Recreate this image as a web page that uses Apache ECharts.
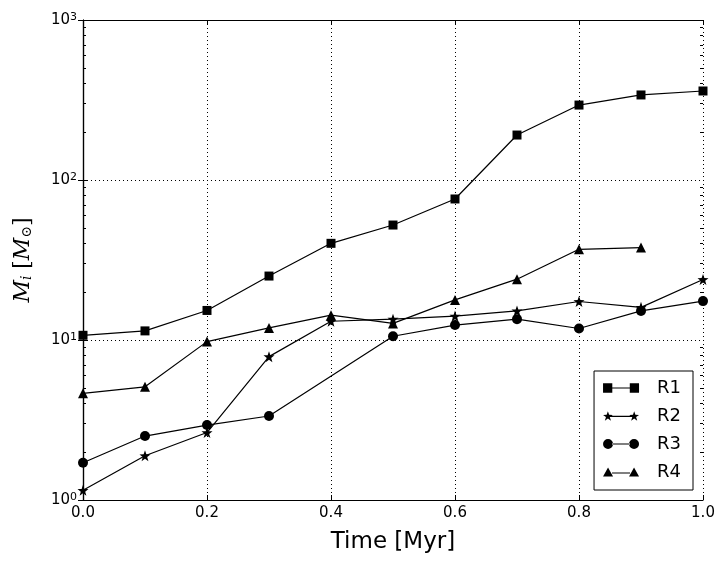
<!DOCTYPE html>
<html>
<head>
<meta charset="utf-8">
<script src="https://cdn.jsdelivr.net/npm/echarts@6/dist/echarts.min.js"></script>
<style>
  html, body { margin: 0; padding: 0; background: #fff; }
  #chart { width: 725px; height: 564px; }
</style>
</head>
<body>
<div id="chart"></div>
<script>
// time axis (Myr)
const times = [0.0, 0.1, 0.2, 0.3, 0.4, 0.5, 0.6, 0.7, 0.8, 0.9, 1.0];

// masses per run (M_sun); null = no point
const r1 = [10.7, 11.4, 15.3, 25.1, 40.2, 52.3, 76.1, 191, 294, 340, 360];
const r2 = [1.15, 1.89, 2.64, 7.87, 13.1, 13.5, 14.1, 15.2, 17.4, 16.0, 23.9];
const r3 = [1.71, 2.51, 2.94, 3.35, null, 10.55, 12.4, 13.5, 11.8, 15.2, 17.5];
const r4 = [4.64, 5.1, 9.77, 11.9, 14.3, 12.7, 17.8, 24.0, 36.9, 37.8, null];

const seriesNames = ['R1', 'R2', 'R3', 'R4'];
const yMinorTicks = [2, 3, 4, 5, 6, 7, 8, 9, 20, 30, 40, 50, 60, 70, 80, 90,
  200, 300, 400, 500, 600, 700, 800, 900];

const FONT = 'DejaVu Sans';

// marker shapes
const starPath = 'path://M4,-0.5L5.06,2.54L8.28,2.61L5.71,4.56L6.65,7.64L4,5.8L1.35,7.64L2.29,4.56L-0.28,2.61L2.94,2.54Z';
const legendIcons = {
  R1: 'path://M0.5,0.5h9v9h-9zM9,4.4h18v1.2h-18zM26.5,0.5h9v9h-9z',
  R2: 'path://M5,0L6.2,3.4L9.8,3.5L6.9,5.7L8,9.2L5,7.1L2,9.2L3.1,5.7L0.2,3.5L3.8,3.4ZM8,4.4h20v1.2h-20zM31,0L32.2,3.4L35.8,3.5L32.9,5.7L34,9.2L31,7.1L28,9.2L29.1,5.7L26.2,3.5L29.8,3.4Z',
  R3: 'path://M0,5a5,5 0 1,0 10,0a5,5 0 1,0 -10,0zM9,4.4h18v1.2h-18zM26,5a5,5 0 1,0 10,0a5,5 0 1,0 -10,0z',
  R4: 'path://M0,9.5L5,0.5L10,9.5ZM9,5.4h18v1.2h-18zM26,9.5L31,0.5L36,9.5Z'
};

function pairs(vals) {
  return times.map((t, i) => [t, vals[i]]).filter(p => p[1] !== null);
}

const chart = echarts.init(document.getElementById('chart'));

const tickLabelStyle = { fontFamily: FONT, fontSize: 15, color: '#000' };

function xAxisBase(extra) {
  return Object.assign({
    type: 'value',
    min: 0,
    max: 1,
    interval: 0.2,
    axisLine: { show: true, onZero: false, lineStyle: { color: '#000', width: 1.2 } },
    axisTick: { show: true, inside: true, length: 5, lineStyle: { color: '#000' } },
    splitLine: { show: false }
  }, extra);
}

function yAxisBase(extra) {
  return Object.assign({
    type: 'log',
    logBase: 10,
    min: 1,
    max: 1000,
    axisLine: { show: true, lineStyle: { color: '#000', width: 1.2 } },
    axisTick: { show: true, inside: true, length: 5, lineStyle: { color: '#000' } },
    axisLabel: { show: false },
    splitLine: { show: false }
  }, extra);
}

const lineCommon = {
  type: 'line',
  xAxisIndex: 0,
  yAxisIndex: 0,
  connectNulls: true,
  color: '#000',
  lineStyle: { color: '#000', width: 1.2 },
  itemStyle: { color: '#000' },
  emphasis: { disabled: true },
  animation: false,
  z: 5
};

chart.setOption({
  animation: false,
  backgroundColor: '#fff',
  grid: { left: 83, right: 22, top: 20, bottom: 64, outerBoundsMode: 'none', containLabel: false },
  legend: {
    orient: 'vertical',
    right: 32,
    bottom: 74,
    backgroundColor: '#fff',
    borderColor: '#000',
    borderWidth: 1,
    borderRadius: 0,
    padding: [8, 12, 9, 9],
    itemWidth: 36,
    itemHeight: 10,
    itemGap: 10,
    selectedMode: false,
    textStyle: { fontFamily: FONT, fontSize: 18, color: '#000', padding: [0, 0, 0, 13] },
    itemStyle: { color: '#000', borderWidth: 0 },
    data: seriesNames.map(n => ({ name: n, icon: legendIcons[n] }))
  },
  xAxis: [
    xAxisBase({
      position: 'bottom',
      name: 'Time [Myr]',
      nameLocation: 'middle',
      nameGap: 31,
      nameTextStyle: { fontFamily: FONT, fontSize: 23, color: '#000' },
      axisLabel: Object.assign({ margin: 6, formatter: v => v.toFixed(1) }, tickLabelStyle),
      splitLine: { show: true, lineStyle: { color: '#000', type: [1, 3], width: 1 } }
    }),
    xAxisBase({ position: 'top', axisLabel: { show: false } })
  ],
  yAxis: [
    yAxisBase({
      position: 'left',
      name: '{m|M}{sub|i}  {b|[}{m|M}{sub|⊙}{b|]}',
      nameLocation: 'middle',
      nameGap: 49,
      nameRotate: 90,
      nameTextStyle: {
        color: '#000',
        rich: {
          m: { fontFamily: 'DejaVu Serif', fontStyle: 'italic', fontSize: 22, color: '#000' },
          sub: { fontFamily: 'DejaVu Serif', fontStyle: 'italic', fontSize: 14, color: '#000', verticalAlign: 'bottom', padding: [8, 0, 0, 0] },
          b: { fontFamily: 'DejaVu Serif', fontSize: 22, color: '#000' }
        }
      },
      axisLabel: {
        show: true,
        margin: 6,
        formatter: v => '{b|10}{s|' + Math.round(Math.log10(v)) + '}',
        rich: {
          b: { fontFamily: FONT, fontSize: 15, lineHeight: 16, color: '#000' },
          s: { fontFamily: FONT, fontSize: 11, lineHeight: 11, verticalAlign: 'top', color: '#000' }
        }
      },
      splitLine: { show: true, lineStyle: { color: '#000', type: [1, 3], width: 1 } }
    }),
    yAxisBase({ position: 'right' }),
    yAxisBase({
      position: 'left',
      axisLine: { show: false },
      axisTick: { show: true, inside: true, length: 3, customValues: yMinorTicks, lineStyle: { color: '#000' } }
    }),
    yAxisBase({
      position: 'right',
      axisLine: { show: false },
      axisTick: { show: true, inside: true, length: 3, customValues: yMinorTicks, lineStyle: { color: '#000' } }
    })
  ],
  series: [
    Object.assign({}, lineCommon, { name: 'R1', data: pairs(r1), symbol: 'rect', symbolSize: 9 }),
    Object.assign({}, lineCommon, { name: 'R2', data: pairs(r2), symbol: starPath, symbolSize: 11 }),
    Object.assign({}, lineCommon, { name: 'R3', data: pairs(r3), symbol: 'circle', symbolSize: 10 }),
    Object.assign({}, lineCommon, { name: 'R4', data: pairs(r4), symbol: 'triangle', symbolSize: 10 })
  ]
});
</script>
</body>
</html>
